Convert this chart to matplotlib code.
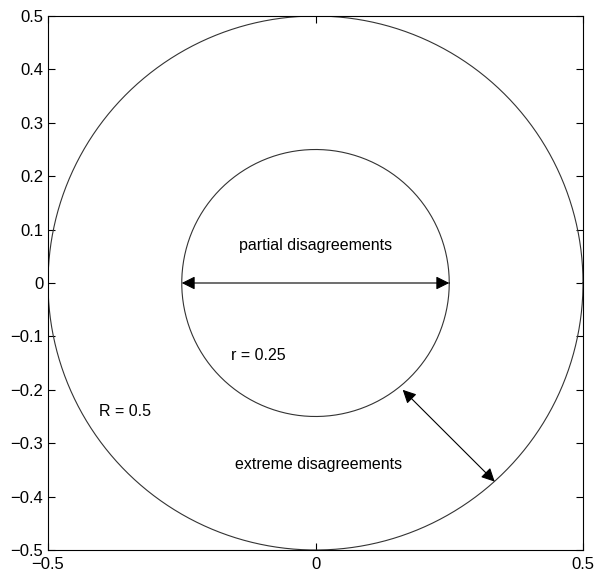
import numpy as np
import matplotlib
matplotlib.use('Agg')
import matplotlib.pyplot as plt

plt.rcParams['font.family'] = ['Liberation Sans', 'DejaVu Sans']

radii = [0.5, 0.25]
ticks = [-0.5, -0.4, -0.3, -0.2, -0.1, 0, 0.1, 0.2, 0.3, 0.4, 0.5]
xticks = [-0.5, 0, 0.5]
labels = [('partial disagreements', 0.0, 0.07, 'center'),
          ('r = 0.25', -0.158, -0.135, 'left'),
          ('R = 0.5', -0.405, -0.24, 'left'),
          ('extreme disagreements', 0.005, -0.34, 'center')]
arrows = [((-0.25, 0.0), (0.25, 0.0)),
          ((0.163, -0.2), (0.335, -0.372))]

fig = plt.figure(figsize=(5.94, 5.72), dpi=100)
ax = fig.add_axes([48/594, 22/572, 535/594, 534/572])

t = np.linspace(0, 2*np.pi, 400)
for r in radii:
    ax.plot(r*np.cos(t), r*np.sin(t), color='#333333', lw=0.8)

for a, b in arrows:
    ax.annotate('', xy=b, xytext=a,
                arrowprops=dict(arrowstyle='<|-|>', color='black', lw=0.8,
                                mutation_scale=20, shrinkA=0, shrinkB=0))

for txt, x, y, ha in labels:
    ax.text(x, y, txt, ha=ha, va='center', fontsize=11.5)

ax.set_xlim(-0.5, 0.5)
ax.set_ylim(-0.5, 0.5)
ax.set_xticks(xticks)
ax.set_xticklabels(['\u22120.5', '0', '0.5'])
ax.set_yticks(ticks)
ax.set_yticklabels([('\u2212' if v < 0 else '') + ('%g' % abs(v)) for v in ticks])
ax.tick_params(direction='in', top=True, right=True, length=5, labelsize=12, width=0.8)
ax.tick_params(axis='x', pad=5)
for s in ax.spines.values():
    s.set_linewidth(0.8)

fig.savefig('out.png', dpi=100)
